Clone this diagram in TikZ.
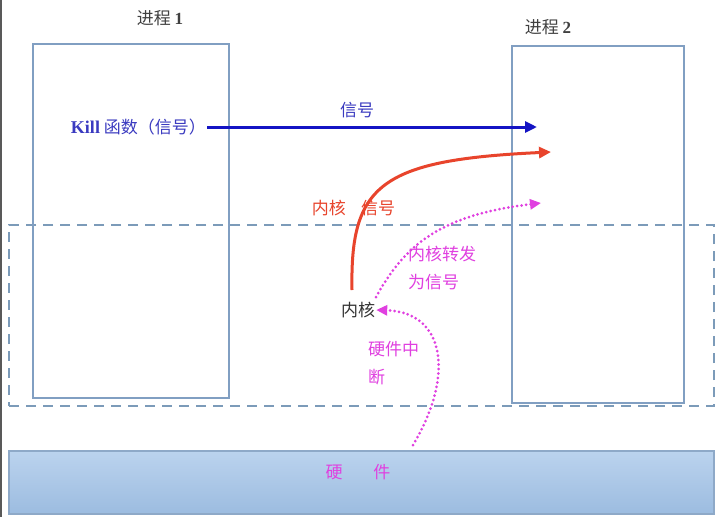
\documentclass[tikz,border=0pt]{standalone}
\usepackage{fontspec}
\setmainfont{Liberation Serif}
\newfontfamily\cjk{Noto Sans CJK SC}
\usetikzlibrary{arrows.meta}
\definecolor{boxline}{HTML}{819FC2}
\definecolor{dashline}{HTML}{7C9BB9}
\definecolor{hwtop}{HTML}{BBD3EE}
\definecolor{hwbot}{HTML}{9CBCE0}
\definecolor{hwline}{HTML}{8EA9C8}
\definecolor{sigblue}{HTML}{1414C4}
\definecolor{txtblue}{HTML}{3A3AC0}
\definecolor{kred}{HTML}{E8442C}
\definecolor{mag}{HTML}{E040E0}
\tikzset{
  x=1pt, y=-1pt,
  procbox/.style={draw=boxline, line width=2pt, minimum width=#1, inner sep=0pt},
  lbl/.style={font=\fontsize{17}{28}\selectfont\cjk, inner sep=1pt},
  magarrow/.style={draw=mag, line width=3pt, line cap=round, dash pattern=on 0pt off 4.5pt, -{Triangle[length=11pt,width=10pt,line cap=butt]}},
}
\begin{document}
\begin{tikzpicture}
\useasboundingbox (0,0) rectangle (720,517);
\fill[white] (0,0) rectangle (720,517);
\draw[gray!70!black, line width=1.5pt] (0.75,0) -- (0.75,517);
% kernel region
\node[draw=dashline, dash pattern=on 10pt off 7pt, line width=2pt, minimum width=705pt, minimum height=181pt, inner sep=0pt, anchor=north west] (kernel) at (8,224) {};
% processes
\node[procbox=196pt, minimum height=354pt, anchor=north west] (p1) at (32,43) {};
\node[procbox=172pt, minimum height=357pt, anchor=north west] (p2) at (511,45) {};
\node[lbl, text=black!75] (p1t) at (160,18) {进程 {\rmfamily\bfseries 1}};
\node[lbl, text=black!75] (p2t) at (548,27) {进程 {\rmfamily\bfseries 2}};
% hardware
\node[draw=hwline, line width=1.5pt, top color=hwtop, bottom color=hwbot, minimum width=705pt, minimum height=63pt, inner sep=0pt, anchor=north west] (hw) at (8,450) {};
\node[lbl, text=mag] (hwt) at (358,472) {硬\hspace{1.8em}件};
% kill
\node[lbl, text=txtblue, anchor=east] (kill) at (207,127) {{\rmfamily\bfseries\fontsize{18}{20}\selectfont Kill} 函数（信号）};
\coordinate (sigend) at (537,127);
\draw[sigblue, line width=3pt, -{Triangle[length=12pt,width=11pt]}] (kill.east) -- (sigend);
\node[lbl, text=txtblue] (sigt) at (357,110) {信号};
% kernel node
\node[lbl, text=black!80] (kn) at (358,310) {内核};
% red
\coordinate (redstart) at (352,290);
\coordinate (redend) at (551,152);
\draw[kred, line width=3pt, -{Triangle[length=12pt,width=11pt]}] (redstart) .. controls (350,185) and (380,160) .. (redend);
\node[lbl, text=kred, anchor=east] (redt1) at (347,208) {内核};
\node[lbl, text=kred, anchor=west] (redt2) at (360,208) {信号};
% magenta forward
\coordinate (fwdend) at (541,203);
\draw[magarrow] (376,297) .. controls (405,245) and (440,215) .. (fwdend);
\node[lbl, text=mag, align=left, anchor=north west] (fwdt) at (407,245) {内核转发\\为信号};
% hardware interrupt
\coordinate (irqstart) at (413,445);
\draw[magarrow] (irqstart) .. controls (455,375) and (445,312) .. (kn.east);
\node[lbl, text=mag, align=left, anchor=north west] (irqt) at (367,340) {硬件中\\断};
\end{tikzpicture}
\end{document}
